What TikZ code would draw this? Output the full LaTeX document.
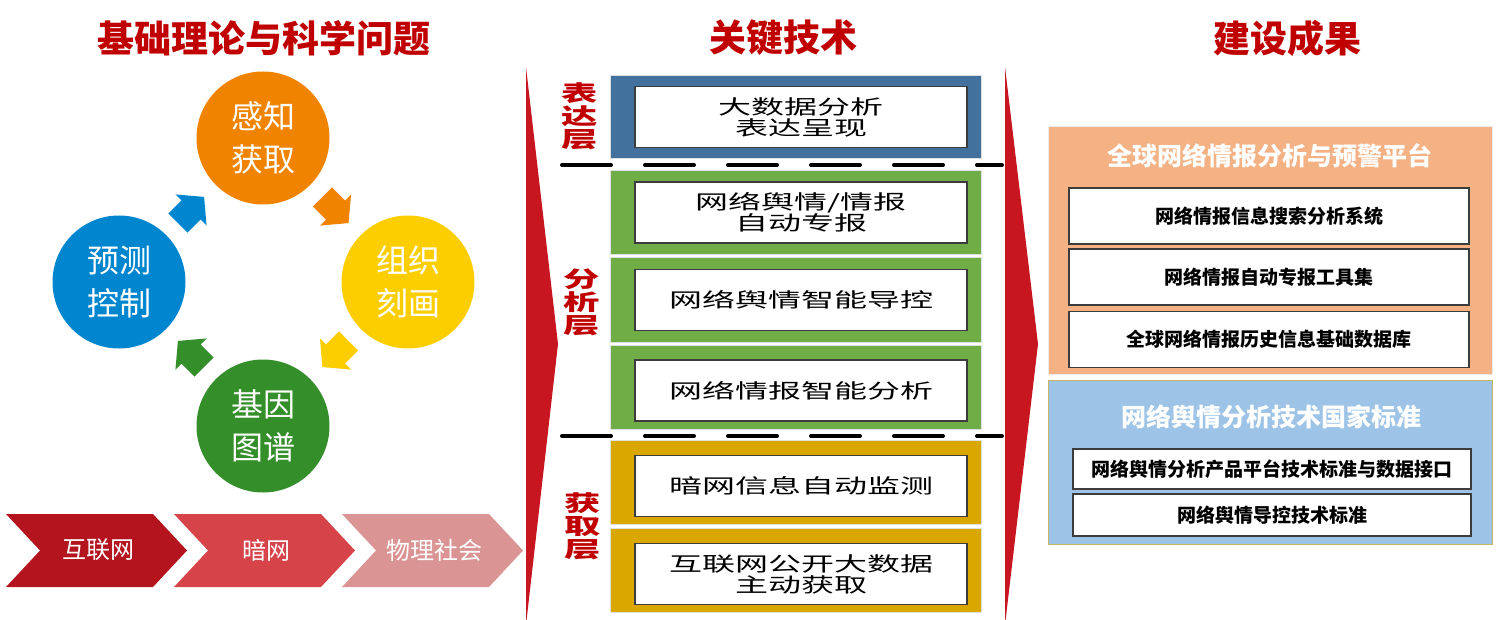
\documentclass[tikz,border=0pt]{standalone}
\usepackage{fontspec}
\newfontfamily\cjk{Noto Sans CJK SC}
\newfontfamily\cjkwide[FakeStretch=1.65]{Noto Sans CJK SC}
\definecolor{titlered}{RGB}{192,0,0}
\definecolor{arrowred}{RGB}{200,22,32}
\definecolor{senseC}{RGB}{240,131,0}
\definecolor{organizeC}{RGB}{252,206,0}
\definecolor{geneC}{RGB}{52,142,42}
\definecolor{predictC}{RGB}{0,133,207}
\definecolor{chevA}{RGB}{180,20,30}
\definecolor{chevB}{RGB}{214,68,74}
\definecolor{chevC}{RGB}{218,148,148}
\definecolor{exprC}{RGB}{65,113,156}
\definecolor{anaC}{RGB}{112,173,71}
\definecolor{acqC}{RGB}{218,166,0}
\definecolor{platC}{RGB}{244,177,131}
\definecolor{stdC}{RGB}{157,195,230}
\definecolor{stdline}{RGB}{200,182,100}
\definecolor{boxline}{RGB}{60,60,60}
\begin{document}
\begin{tikzpicture}[x=1pt,y=-1pt]
\tikzstyle{title}=[text=titlered,font=\cjk\bfseries\fontsize{37}{40}\selectfont]
\tikzstyle{stage}=[circle,minimum size=133pt,inner sep=0pt,text=white,align=center,font=\cjk\fontsize{32}{43}\selectfont]
\tikzstyle{chev}=[text=white,font=\cjk\fontsize{24}{26}\selectfont]
\tikzstyle{layer}=[text=titlered,align=center,font=\cjkwide\bfseries\fontsize{22}{23}\selectfont]
\tikzstyle{band}=[draw=black!12,line width=1pt,minimum width=371pt,minimum height=84pt,inner sep=0pt]
\tikzstyle{tech}=[draw=boxline,fill=white,line width=1.2pt,minimum width=332pt,minimum height=61pt,inner sep=0pt,align=center,font=\cjkwide\fontsize{20}{21}\selectfont]
\tikzstyle{sep}=[line width=4pt,dash pattern=on 49pt off 34pt,line cap=round]
\tikzstyle{group}=[line width=1pt,minimum width=444pt,inner sep=0pt]
\tikzstyle{grouptitle}=[text=white,font=\cjk\bfseries\fontsize{25}{27}\selectfont]
\tikzstyle{result}=[draw=boxline,fill=white,line width=1.2pt,inner sep=0pt,font=\cjk\bfseries\fontsize{19}{21}\selectfont]
\useasboundingbox (0,0) rectangle (1498,620);
% titles
\node [title] (t1) at (264,38) {基础理论与科学问题};
\node [title] (t2) at (783,38) {关键技术};
\node [title] (t3) at (1287,38) {建设成果};
% cycle
\node [stage,fill=senseC] (sense) at (263,138) {感知\\获取};
\node [stage,fill=organizeC] (organize) at (408,282) {组织\\刻画};
\node [stage,fill=geneC] (gene) at (263,426) {基因\\图谱};
\node [stage,fill=predictC] (predict) at (119,282) {预测\\控制};
\path (sense) -- (organize) coordinate [midway] (f1);
\path (organize) -- (gene) coordinate [midway] (f2);
\path (gene) -- (predict) coordinate [midway] (f3);
\path (predict) -- (sense) coordinate [midway] (f4);
\fill [senseC,shift={(f1)},rotate=-45] (-18.5,-13.5) -- (0,-13.5) -- (0,-22) -- (18.5,0) -- (0,22) -- (0,13.5) -- (-18.5,13.5) -- cycle;
\fill [organizeC,shift={(f2)},rotate=-135] (-18.5,-13.5) -- (0,-13.5) -- (0,-22) -- (18.5,0) -- (0,22) -- (0,13.5) -- (-18.5,13.5) -- cycle;
\fill [geneC,shift={(f3)},rotate=135] (-18.5,-13.5) -- (0,-13.5) -- (0,-22) -- (18.5,0) -- (0,22) -- (0,13.5) -- (-18.5,13.5) -- cycle;
\fill [predictC,shift={(f4)},rotate=45] (-18.5,-13.5) -- (0,-13.5) -- (0,-22) -- (18.5,0) -- (0,22) -- (0,13.5) -- (-18.5,13.5) -- cycle;
% chevrons
\fill [chevA] (6,514) -- (153,514) -- (187,550.5) -- (153,587) -- (6,587) -- (40,550.5) -- cycle;
\fill [chevB] (174,514) -- (321,514) -- (355,550.5) -- (321,587) -- (174,587) -- (208,550.5) -- cycle;
\fill [chevC] (342,514) -- (489,514) -- (523,550.5) -- (489,587) -- (342,587) -- (376,550.5) -- cycle;
\node [chev] (internet) at (98,550) {互联网};
\node [chev] (darknet) at (266,550) {暗网};
\node [chev] (society) at (434,550) {物理社会};
% red wedges
\fill [arrowred] (526,67) -- (558,344) -- (526,625) -- cycle;
\fill [arrowred] (1005,67) -- (1038,344) -- (1005,625) -- cycle;
% layers
\node [band,fill=exprC,minimum height=83pt] (b1) at (795.5,117.5) {};
\node [band,fill=anaC] (b2) at (795.5,213) {};
\node [band,fill=anaC] (b3) at (795.5,300) {};
\node [band,fill=anaC] (b4) at (795.5,387.5) {};
\node [band,fill=acqC] (b5) at (795.5,482.5) {};
\node [band,fill=acqC] (b6) at (795.5,570) {};
\node [tech] (k1) at (801,117) {大数据分析\\表达呈现};
\node [tech] (k2) at (801,212.5) {网络舆情/情报\\自动专报};
\node [tech] (k3) at (801,300) {网络舆情智能导控};
\node [tech] (k4) at (801,390.5) {网络情报智能分析};
\node [tech] (k5) at (801,486) {暗网信息自动监测};
\node [tech] (k6) at (801,574) {互联网公开大数据\\主动获取};
\node [layer] (l1) at (580,116) {表\\达\\层};
\node [layer] (l2) at (582,302) {分\\析\\层};
\node [layer] (l3) at (583,526) {获\\取\\层};
\coordinate (s1a) at (562,165);
\coordinate (s1b) at (1002,165);
\coordinate (s2a) at (562,436);
\coordinate (s2b) at (1002,436);
\draw [sep] (s1a) -- (s1b);
\draw [sep] (s2a) -- (s2b);
% results
\node [group,fill=platC,draw=black!8,minimum height=247pt] (g1) at (1270,250.5) {};
\node [group,fill=stdC,draw=stdline,minimum height=164pt] (g2) at (1270,462) {};
\node [grouptitle] (g1t) at (1270,156) {全球网络情报分析与预警平台};
\node [grouptitle] (g2t) at (1271,417) {网络舆情分析技术国家标准};
\node [result,minimum width=400pt,minimum height=56pt] (r1) at (1269,216) {网络情报信息搜索分析系统};
\node [result,minimum width=400pt,minimum height=56pt] (r2) at (1269,277) {网络情报自动专报工具集};
\node [result,minimum width=400pt,minimum height=56pt] (r3) at (1269,339.5) {全球网络情报历史信息基础数据库};
\node [result,minimum width=398pt,minimum height=40pt] (r4) at (1272,469) {网络舆情分析产品平台技术标准与数据接口};
\node [result,minimum width=398pt,minimum height=42pt] (r5) at (1272,515) {网络舆情导控技术标准};
\end{tikzpicture}
\end{document}
